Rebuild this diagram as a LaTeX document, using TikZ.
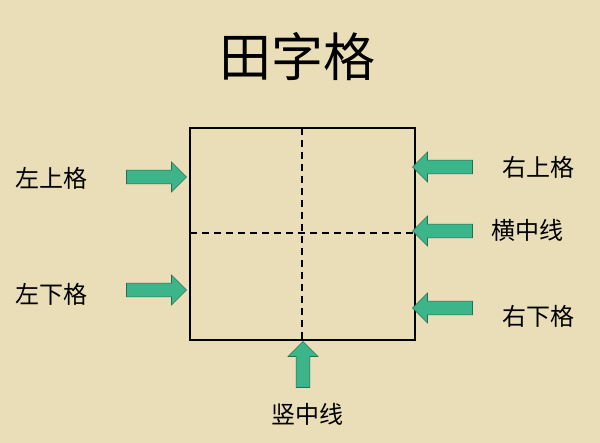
\documentclass[tikz,border=0pt]{standalone}
\usepackage{fontspec}
\newfontfamily\cjk{Noto Sans CJK SC}
\usetikzlibrary{shapes.arrows}
\definecolor{paper}{HTML}{E9DEB8}
\definecolor{agreen}{HTML}{3DB58A}
\tikzset{
 lbl/.style={font=\cjk\fontsize{24}{24}\selectfont},
 blk/.style={single arrow, fill=agreen, draw=agreen!60!black, line width=0.6pt,
   minimum height=60pt, minimum width=30pt, single arrow head extend=5pt, inner sep=4pt},
 gridline/.style={line width=1.5pt},
 dashline/.style={line width=1.3pt, dash pattern=on 7pt off 5pt}
}
\begin{document}
\begin{tikzpicture}[x=1pt,y=-1pt]
\fill[paper] (0,0) rectangle (600,443);
\useasboundingbox (0,0) rectangle (600,443);
\node[font=\cjk\fontsize{52}{52}\selectfont] (title) at (297,57) {田字格};
\coordinate (tl) at (190,128); \coordinate (br) at (415,340);
\draw[dashline] (302,128) -- (302,340);
\draw[dashline] (190,233) -- (415,233);
\draw[gridline] (tl) rectangle (br);
\node[lbl] (lu) at (52,178) {左上格};
\node[lbl] (ld) at (52,294) {左下格};
\node[lbl] (ru) at (538,167) {右上格};
\node[lbl] (rm) at (527,230) {横中线};
\node[lbl] (rd) at (538,316) {右下格};
\node[lbl] (bm) at (307,414) {竖中线};
\node[blk] (a1) at (153,177) {};
\node[blk] (a2) at (153,290) {};
\node[blk, shape border rotate=180] (a3) at (446,167) {};
\node[blk, shape border rotate=180] (a4) at (446,231) {};
\node[blk, shape border rotate=180] (a5) at (446,308) {};
\node[blk, shape border rotate=90, minimum height=46pt] (a6) at (303,368) {};
\end{tikzpicture}
\end{document}
